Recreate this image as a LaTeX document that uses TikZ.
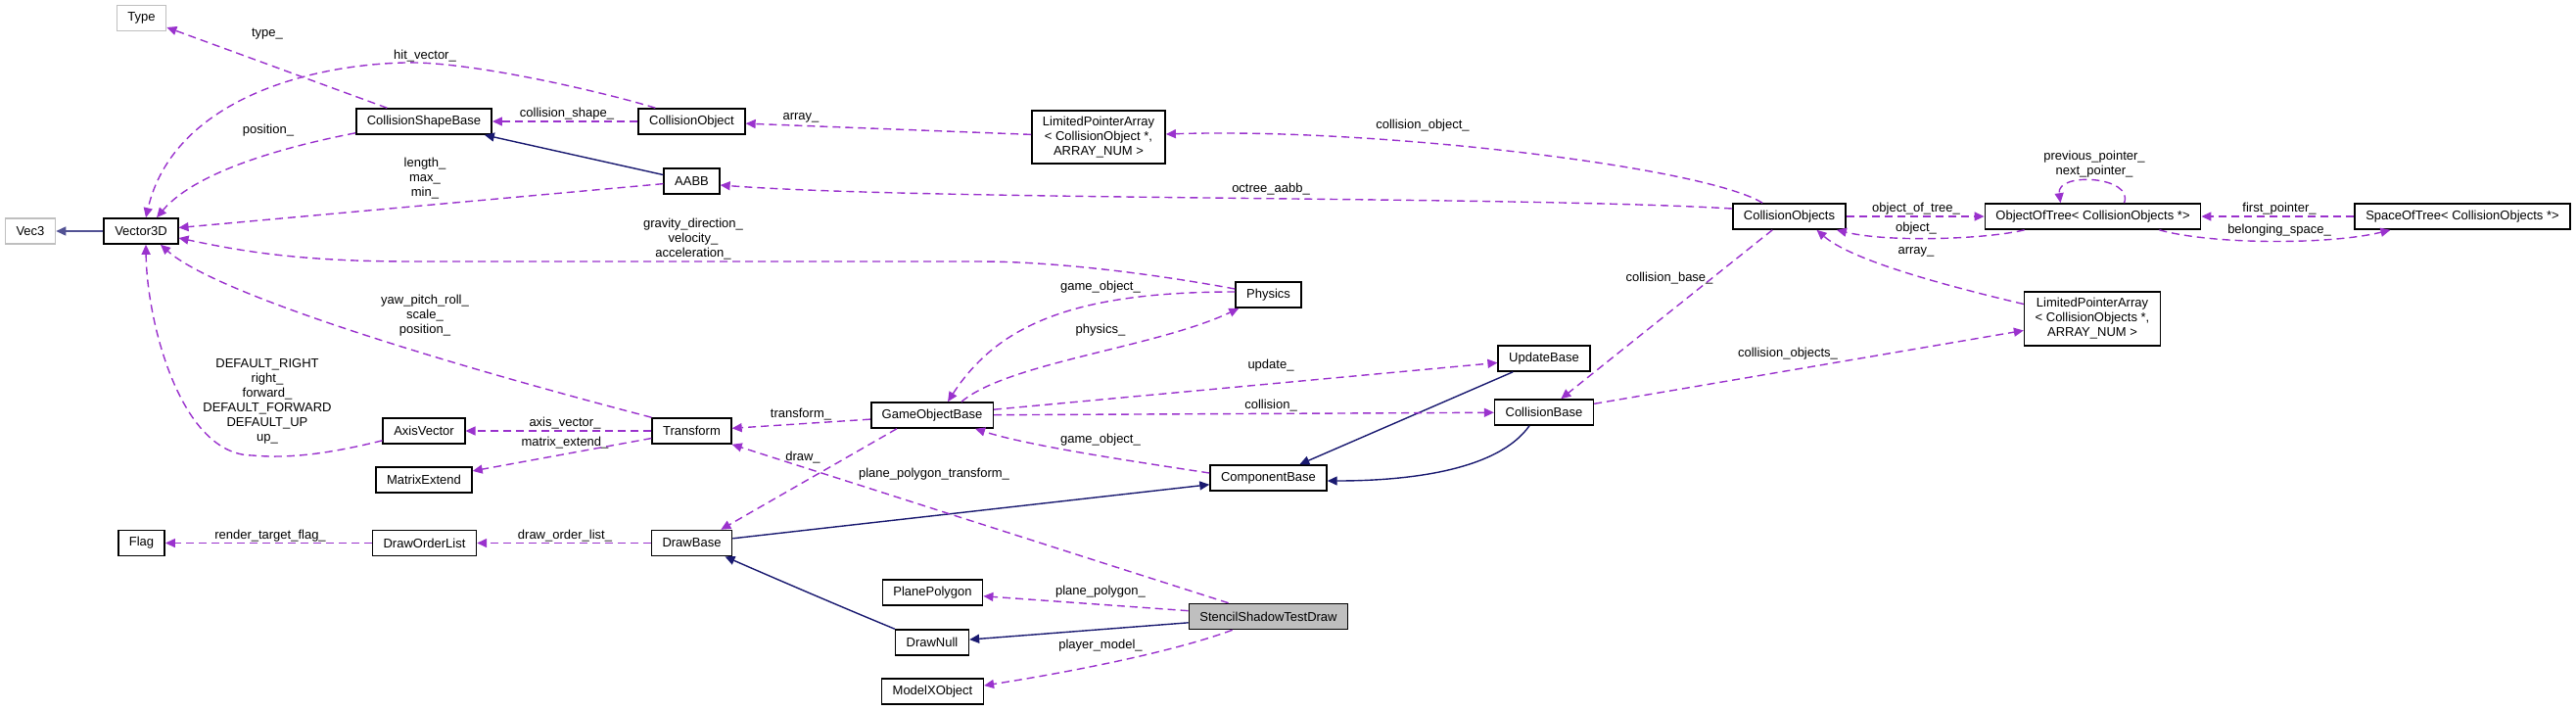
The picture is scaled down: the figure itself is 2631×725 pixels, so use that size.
\documentclass[tikz,border=0pt]{standalone}
\usepackage{fontspec}
\setmainfont{Liberation Sans}
\usepackage{xcolor}
\usetikzlibrary{arrows.meta,calc}
\definecolor{usecol}{HTML}{9A32CD}
\definecolor{inhcol}{HTML}{191970}
\definecolor{extcol}{HTML}{BFBFBF}

\begin{document}
\begin{tikzpicture}[
 x=0.5pt,y=-0.5pt,
 txt/.style={font=\fontsize{6.5}{7.5}\selectfont},
 cls/.style={txt,draw,line width=0.8pt,fill=white,inner xsep=5.5pt,inner ysep=0pt,
 minimum height=13pt,align=center},
 extcls/.style={cls,draw=extcol},
 focus/.style={cls,fill=extcol},
 lbl/.style={txt,inner sep=0pt,align=center},
 use/.style={-{Triangle[length=5pt,width=4.5pt]},usecol,line width=0.7pt,
 dash pattern=on 4pt off 2.5pt},
 inh/.style={-{Triangle[length=5pt,width=4.5pt]},inhcol,line width=0.7pt}]
\useasboundingbox (0,0) rectangle (2631,725);
\node[extcls] (type) at (144.5,18.5) {Type};
\node[extcls] (vec3) at (31,236) {Vec3};
\node[cls] (v3d) at (144,236) {Vector3D};
\node[cls] (csb) at (433,124) {CollisionShapeBase};
\node[cls] (cobj) at (706.5,124) {CollisionObject};
\node[cls] (aabb) at (706.5,185) {AABB};
\node[cls,minimum height=27pt] (lpa1) at (1122,140)
 {LimitedPointerArray\\< CollisionObject *,\\ ARRAY\_NUM >};
\node[cls] (cobjs) at (1827.5,221) {CollisionObjects};
\node[cls] (oot) at (2137.5,221) {ObjectOfTree< CollisionObjects *>};
\node[cls] (sot) at (2515,221) {SpaceOfTree< CollisionObjects *>};
\node[cls,minimum height=27.5pt] (lpa2) at (2137,325.5)
 {LimitedPointerArray\\< CollisionObjects *,\\ ARRAY\_NUM >};
\node[cls] (phys) at (1295.5,301) {Physics};
\node[cls] (upd) at (1577,366) {UpdateBase};
\node[cls] (gob) at (952,424) {GameObjectBase};
\node[cls] (cb) at (1577,421) {CollisionBase};
\node[cls] (comp) at (1295.5,488) {ComponentBase};
\node[cls] (tr) at (706.5,440) {Transform};
\node[cls] (ax) at (433,440) {AxisVector};
\node[cls] (mx) at (433,490) {MatrixExtend};
\node[cls] (flag) at (144.5,554.5) {Flag};
\node[cls] (dol) at (433.5,554.5) {DrawOrderList};
\node[cls] (db) at (706.5,554.5) {DrawBase};
\node[cls] (pp) at (952.5,605) {PlanePolygon};
\node[focus] (sstd) at (1295.5,629.5) {StencilShadowTestDraw};
\node[cls] (dn) at (952,656) {DrawNull};
\node[cls] (mxo) at (952.5,706) {ModelXObject};

\draw[inh,draw=inhcol!75] (v3d)--(vec3);
\draw[inh] (aabb)--(csb);
\draw[inh] (upd)--(comp);
\draw[inh] ($(cb.south)+(-15,0)$) .. controls (1530,480) and (1440,491) .. ($(comp.east)+(0,3)$);
\draw[inh] (db)--(comp);
\draw[inh] (dn.north west) .. controls (860,620) and (790,590) .. ($(db.south)+(34,0)$);
\draw[inh] (sstd)--(dn);

\draw[use] (csb)--(type);
\draw[use] ($(cobj.north west)+(18,0)$) .. controls (620,95) and (480,62) .. (413,64)
 .. controls (300,67) and (175,110) .. ($(v3d.north)+(5,0)$);
\draw[use] (cobj)--(csb);
\draw[use] (lpa1)--(cobj);
\draw[use] ($(csb.south west)+(0,-2)$) .. controls (290,150) and (200,175) .. ($(v3d.north)+(16,0)$);
\draw[use] (aabb)--(v3d);
\draw[use] ($(phys.west)+(0,-6)$) .. controls (1180,280) and (1080,267) .. (1000,267)
 -- (420,267) .. controls (300,267) and (240,255) .. ($(v3d.east)+(0,7)$);
\draw[use] (tr.north west) .. controls (450,370) and (220,300) .. ($(v3d.south)+(20,0)$);
\draw[use] ($(ax.south west)+(0,-4)$) .. controls (330,465) and (290,468) .. (258,465)
 .. controls (185,465) and (150,330) .. ($(v3d.south)+(5,0)$);
\draw[use] (tr)--(ax);
\draw[use] (tr)--(mx);
\draw[use] (gob)--(tr);
\draw[use] ($(sstd.north west)+(41,0)$)--(tr.south east);
\draw[use] ($(gob.south west)+(27,0)$)--($(db.north east)+(-12,0)$);
\draw[use] ($(phys.west)+(0,-3)$) .. controls (1100,298) and (1020,330) .. ($(gob.north)+(16,0)$);
\draw[use] ($(gob.north)+(30,0)$) .. controls (1030,370) and (1180,355) .. ($(phys.south west)+(4,0)$);
\draw[use] (gob)--(upd);
\draw[use] (gob)--(cb);
\draw[use] ($(comp.west)+(0,-5)$) .. controls (1150,470) and (1050,455) .. ($(gob.south)+(44,0)$);
\draw[use] (sstd)--(pp);
\draw[use] ($(sstd.south west)+(45,0)$) .. controls (1200,665) and (1100,685) .. ($(mxo.east)+(0,-6)$);
\draw[use] (db)--(dol);
\draw[use] (dol)--(flag);
\draw[use] ($(cobjs.north west)+(31,0)$) .. controls (1740,170) and (1400,130) .. ($(lpa1.east)+(0,-3)$);
\draw[use] ($(cobjs.west)+(0,-8)$) .. controls (1550,200) and (950,205) .. ($(aabb.east)+(0,4)$);
\draw[use] (cobjs)--(cb);
\draw[use] (cb)--(lpa2);
\draw[use] ($(lpa2.west)+(0,-15)$) .. controls (1980,290) and (1890,265) .. ($(cobjs.south)+(28,0)$);
\draw[use] (cobjs)--(oot);
\draw[use] ($(oot.south west)+(41,0)$) .. controls (2030,244) and (1930,248) .. ($(cobjs.south east)+(-10,0)$);
\draw[use] ($(oot.north)+(32,0)$) .. controls (2180,180) and (2100,175) .. ($(oot.north)+(-33,0)$);
\draw[use] (sot)--(oot);
\draw[use] ($(oot.south east)+(-43,0)$) .. controls (2260,250) and (2380,250) .. ($(sot.south west)+(37,0)$);

\node[lbl] (ltype) at (273,35) {type\_};
\node[lbl] (lhit) at (434,57) {hit\_vector\_};
\node[lbl] (lshape) at (579,116) {collision\_shape\_};
\node[lbl] (larray) at (818,120) {array\_};
\node[lbl] (lpos) at (274,133) {position\_};
\node[lbl] (llen) at (434,182) {length\_\\max\_\\min\_};
\node[lbl] (lgrav) at (708,244) {gravity\_direction\_\\velocity\_\\acceleration\_};
\node[lbl] (lyaw) at (434,322) {yaw\_pitch\_roll\_\\scale\_\\position\_};
\node[lbl] (ldef) at (273,410) {DEFAULT\_RIGHT\\right\_\\forward\_\\DEFAULT\_FORWARD\\DEFAULT\_UP\\up\_};
\node[lbl] (laxis) at (577,432) {axis\_vector\_};
\node[lbl] (lmat) at (577,452) {matrix\_extend\_};
\node[lbl] (ltrans) at (818,423) {transform\_};
\node[lbl] (ldraw) at (820,467) {draw\_};
\node[lbl] (lflag) at (276,547) {render\_target\_flag\_};
\node[lbl] (ldol) at (577,547) {draw\_order\_list\_};
\node[lbl] (lcobj) at (1453,128) {collision\_object\_};
\node[lbl] (loct) at (1298,193) {octree\_aabb\_};
\node[lbl] (lgo1) at (1124,293) {game\_object\_};
\node[lbl] (lphys) at (1124,337) {physics\_};
\node[lbl] (lcbase) at (1705,284) {collision\_base\_};
\node[lbl] (lupd) at (1298,373) {update\_};
\node[lbl] (lcoll) at (1298,414) {collision\_};
\node[lbl] (lgo2) at (1124,449) {game\_object\_};
\node[lbl] (lppt) at (954,484) {plane\_polygon\_transform\_};
\node[lbl] (lpp) at (1124,604) {plane\_polygon\_};
\node[lbl] (lplay) at (1124,659) {player\_model\_};
\node[lbl] (lptr) at (2139,168) {previous\_pointer\_\\next\_pointer\_};
\node[lbl] (loot) at (1957,213) {object\_of\_tree\_};
\node[lbl] (lobj) at (1957,233) {object\_};
\node[lbl] (lfirst) at (2328,213) {first\_pointer\_};
\node[lbl] (lbel) at (2328,235) {belonging\_space\_};
\node[lbl] (larray2) at (1957,257) {array\_};
\node[lbl] (lcobjs) at (1826,361) {collision\_objects\_};
\end{tikzpicture}
\end{document}
